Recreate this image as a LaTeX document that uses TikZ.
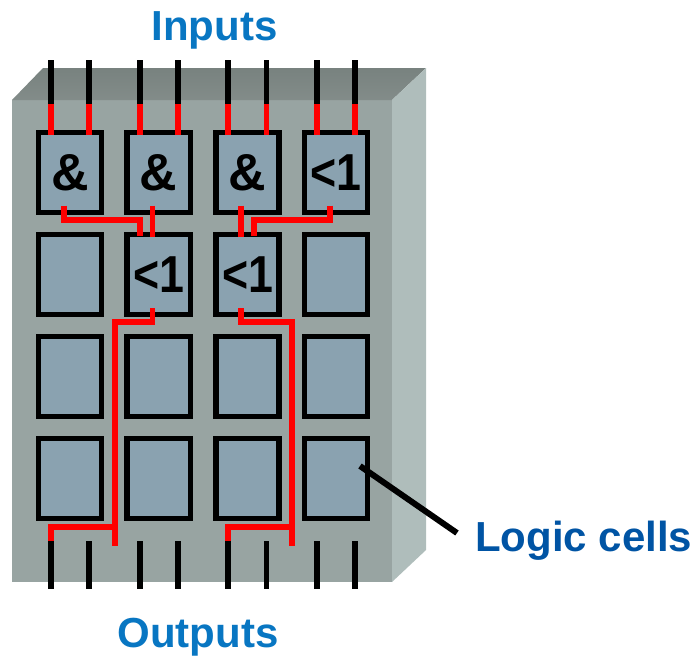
\documentclass[tikz,border=0pt]{standalone}
\usepackage{fontspec}
\setmainfont{Liberation Sans}
\newfontfamily\narrowfont[FakeStretch=0.86]{Liberation Sans Bold}
\definecolor{boxfront}{HTML}{98A4A2}
\definecolor{boxtop}{HTML}{78827F}
\definecolor{boxside}{HTML}{AFBDBB}
\definecolor{cellblue}{HTML}{8AA2B0}
\definecolor{titleblue}{HTML}{0876C2}
\definecolor{labelblue}{HTML}{0054A4}
\tikzset{
  cellbox/.style={draw=black,line width=5.3pt,fill=cellblue,inner sep=0pt,
    minimum width=63.2pt,minimum height=79.8pt,font=\fontsize{52}{52}\selectfont\bfseries},
  blackwire/.style={draw=black,line width=5.3pt},
  redwire/.style={draw=red,line width=5.3pt,miter limit=10},
  title/.style={font=\fontsize{42}{42}\selectfont\bfseries,anchor=base}
}
\begin{document}
\begin{tikzpicture}[x=1pt,y=-1pt]
            \useasboundingbox (0,0) rectangle (696,657);
            % the block
            \fill[boxfront] (12,100) rectangle (392,582);
            \shade[top color=boxtop,bottom color=boxtop!92!white] (12,100) -- (43,68) -- (426,68) -- (392,100) -- cycle;
            \fill[boxside] (392,100) -- (426,68) -- (426,550) -- (392,582) -- cycle;
            % the cells
            \node[cellbox] (cellA1) at (70,172.5) {\&};
            \node[cellbox] (cellA2) at (158.7,172.5) {\&};
            \node[cellbox] (cellA3) at (247.5,172.5) {\&};
            \node[cellbox] (cellA4) at (336,172.5) {\narrowfont <1};
            \node[cellbox] (cellB1) at (70,274.7) {};
            \node[cellbox] (cellB2) at (158.7,274.7) {\narrowfont <1};
            \node[cellbox] (cellB3) at (247.5,274.7) {\narrowfont <1};
            \node[cellbox] (cellB4) at (336,274.7) {};
            \node[cellbox] (cellC1) at (70,376.5) {};
            \node[cellbox] (cellC2) at (158.7,376.5) {};
            \node[cellbox] (cellC3) at (247.5,376.5) {};
            \node[cellbox] (cellC4) at (336,376.5) {};
            \node[cellbox] (cellD1) at (70,478.7) {};
            \node[cellbox] (cellD2) at (158.7,478.7) {};
            \node[cellbox] (cellD3) at (247.5,478.7) {};
            \node[cellbox] (cellD4) at (336,478.7) {};
            % the pins
            \coordinate (inA) at (51,60);
            \coordinate (inB) at (89,60);
            \coordinate (inC) at (140,60);
            \coordinate (inD) at (178,60);
            \coordinate (inE) at (228,60);
            \coordinate (inF) at (266.5,60);
            \coordinate (inG) at (317,60);
            \coordinate (inH) at (355,60);
            \coordinate (pinA) at (51,104);
            \coordinate (pinB) at (89,104);
            \coordinate (pinC) at (140,104);
            \coordinate (pinD) at (178,104);
            \coordinate (pinE) at (228,104);
            \coordinate (pinF) at (266.5,104);
            \coordinate (pinG) at (317,104);
            \coordinate (pinH) at (355,104);
            \coordinate (outA) at (51,541);
            \coordinate (outB) at (89,541);
            \coordinate (outC) at (140,541);
            \coordinate (outD) at (178,541);
            \coordinate (outE) at (228,541);
            \coordinate (outF) at (266.5,541);
            \coordinate (outG) at (317,541);
            \coordinate (outH) at (355,541);
            \coordinate (endA) at (51,589);
            \coordinate (endB) at (89,589);
            \coordinate (endC) at (140,589);
            \coordinate (endD) at (178,589);
            \coordinate (endE) at (228,589);
            \coordinate (endF) at (266.5,589);
            \coordinate (endG) at (317,589);
            \coordinate (endH) at (355,589);
            \draw[blackwire] (inA) -- (pinA);
            \draw[blackwire] (inB) -- (pinB);
            \draw[blackwire] (inC) -- (pinC);
            \draw[blackwire] (inD) -- (pinD);
            \draw[blackwire] (inE) -- (pinE);
            \draw[blackwire] (inF) -- (pinF);
            \draw[blackwire] (inG) -- (pinG);
            \draw[blackwire] (inH) -- (pinH);
            \draw[blackwire] (outA) -- (endA);
            \draw[blackwire] (outB) -- (endB);
            \draw[blackwire] (outC) -- (endC);
            \draw[blackwire] (outD) -- (endD);
            \draw[blackwire] (outE) -- (endE);
            \draw[blackwire] (outF) -- (endF);
            \draw[blackwire] (outG) -- (endG);
            \draw[blackwire] (outH) -- (endH);
            % the routing
            \draw[redwire] (pinA) -- (51,135);
            \draw[redwire] (pinB) -- (89,135);
            \draw[redwire] (pinC) -- (140,135);
            \draw[redwire] (pinD) -- (178,135);
            \draw[redwire] (pinE) -- (228,135);
            \draw[redwire] (pinF) -- (266.5,135);
            \draw[redwire] (pinG) -- (317,135);
            \draw[redwire] (pinH) -- (355,135);
            \draw[redwire] (64,205.7) -- (64,220) -- (140,220) -- (140,236);
            \draw[redwire] (152.5,205.7) -- (152.5,237);
            \draw[redwire] (241,205.7) -- (241,237);
            \draw[redwire] (330,205.7) -- (330,220) -- (254,220) -- (254,236);
            \draw[redwire] (152.5,308) -- (152.5,322) -- (115,322) -- (115,546);
            \draw[redwire] (241,308) -- (241,322) -- (292,322) -- (292,546);
            \draw[redwire] (115,527) -- (51,527) -- (outA);
            \draw[redwire] (292,527) -- (228,527) -- (outE);
            % the labels
            \node[title,text=titleblue] (inputs) at (214.5,40.5) {Inputs};
            \node[title,text=titleblue] (outputs) at (198,647) {Outputs};
            \node[title,text=labelblue,anchor=base west] (logic) at (471.5,551.5) {Logic cells};
            \coordinate (pointer) at (360,466);
            \draw[line width=6pt] (pointer) -- (457,533);
         \end{tikzpicture}
\end{document}
